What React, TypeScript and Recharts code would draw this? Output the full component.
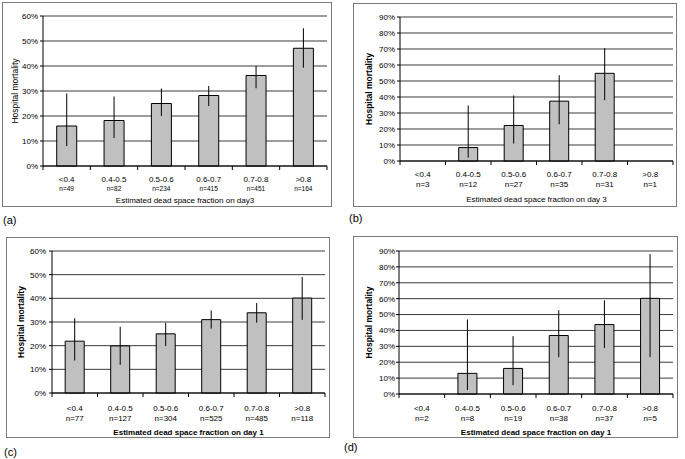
import React from 'react';
import { BarChart, Bar, XAxis, YAxis, CartesianGrid, ErrorBar } from 'recharts';

const categories = ['<0.4', '0.4-0.5', '0.5-0.6', '0.6-0.7', '0.7-0.8', '>0.8'];

// (a) day 3, all patients
const nA = [49, 82, 234, 415, 451, 164];
const mortA = [16, 18.2, 25, 28.2, 36.2, 47.1];
const lowA = [8, 11.2, 20, 24, 31.1, 39.3];
const highA = [29, 27.8, 31, 32, 40, 55.1];

// (b) day 3, subgroup
const nB = [3, 12, 27, 35, 31, 1];
const mortB = [0, 8.4, 22.2, 37.4, 54.8, 0];
const lowB = [0, 2.1, 10.9, 23, 38, 0];
const highB = [0, 34.7, 41, 53.6, 70.5, 0];

// (c) day 1, all patients
const nC = [77, 127, 304, 525, 485, 118];
const mortC = [21.9, 19.9, 25, 31, 33.9, 40.1];
const lowC = [13.7, 11.9, 19.8, 27.2, 29.7, 30.9];
const highC = [31.6, 28, 29.6, 34.9, 38, 49];

// (d) day 1, subgroup
const nD = [2, 8, 19, 38, 37, 5];
const mortD = [0, 13, 16.1, 36.8, 43.7, 60.2];
const lowD = [0, 2.5, 5.6, 23.2, 29, 23.2];
const highD = [0, 46.9, 36.4, 52.7, 59, 88];

const ticks60 = [0, 10, 20, 30, 40, 50, 60];
const ticks90 = [0, 10, 20, 30, 40, 50, 60, 70, 80, 90];

const FONT = 'Arial, "Liberation Sans", sans-serif';

const buildRows = (mort: number[], low: number[], high: number[]) =>
  categories.map((c, i) => ({
    cat: c,
    v: mort[i],
    err: [mort[i] - low[i], high[i] - mort[i]],
  }));

interface PanelProps {
  letter: string;
  letterPos: { left: number; top: number };
  box: { left: number; top: number; width: number; height: number };
  margin: { top: number; right: number; left: number };
  yWidth: number;
  yTickMargin: number;
  xHeight: number;
  yMax: number;
  yTicks: number[];
  mort: number[];
  low: number[];
  high: number[];
  n: number[];
  title: string;
  yTitleX: number;
  yBold: boolean;
  xBold: boolean;
  catDy: number;
  nDy: number;
  titleDy: number;
  nSize: number;
}

function Panel(p: PanelProps) {
  const rows = buildRows(p.mort, p.low, p.high);
  const plotW = p.box.width - p.margin.left - p.yWidth - p.margin.right;
  const band = plotW / categories.length;

  const CatTick = (t: any) => {
    const { x, y, payload, index } = t;
    const off = payload && payload.offset != null && payload.offset > 0 ? payload.offset : band / 2;
    return (
      <g>
        <line x1={x - off} x2={x - off} y1={y} y2={y + 4} stroke="#000" />
        {index === categories.length - 1 && (
          <line x1={x + off} x2={x + off} y1={y} y2={y + 4} stroke="#000" />
        )}
        <text x={x} y={y + p.catDy} dy="0.35em" textAnchor="middle" fontSize={8} fill="#000" fontFamily={FONT}>
          {payload.value}
        </text>
        <text x={x} y={y + p.nDy} dy="0.35em" textAnchor="middle" fontSize={p.nSize} fill="#000" fontFamily={FONT}>
          {'n=' + p.n[index]}
        </text>
      </g>
    );
  };

  return (
    <>
      <div
        style={{
          position: 'absolute',
          left: p.box.left,
          top: p.box.top,
          width: p.box.width,
          height: p.box.height,
          border: '1px solid #7a7a7a',
          boxSizing: 'border-box',
        }}
      />
      <div style={{ position: 'absolute', left: p.box.left, top: p.box.top }}>
        <BarChart
          width={p.box.width}
          height={p.box.height}
          data={rows}
          margin={{ top: p.margin.top, right: p.margin.right, left: p.margin.left, bottom: 0 }}
          barCategoryGap="29%"
        >
          <CartesianGrid vertical={false} stroke="#3a3a3a" />
          <XAxis
            dataKey="cat"
            interval={0}
            height={p.xHeight}
            tickSize={0}
            tickMargin={0}
            tickLine={false}
            axisLine={{ stroke: '#000' }}
            tick={<CatTick />}
            label={{
              content: (lp: any) => {
                const vb = lp.viewBox;
                return (
                  <text
                    x={vb.x + vb.width / 2}
                    y={vb.y + p.titleDy}
                    dy="0.35em"
                    textAnchor="middle"
                    fontSize={8}
                    fontWeight={p.xBold ? 'bold' : 'normal'}
                    fill="#000"
                    fontFamily={FONT}
                  >
                    {p.title}
                  </text>
                );
              },
            }}
          />
          <YAxis
            type="number"
            domain={[0, p.yMax]}
            ticks={p.yTicks}
            interval={0}
            width={p.yWidth}
            tickSize={3}
            tickMargin={p.yTickMargin}
            tickFormatter={(v: number) => `${v}%`}
            tick={{ fontSize: 8, fill: '#000', fontFamily: FONT }}
            tickLine={{ stroke: '#000' }}
            axisLine={{ stroke: '#000' }}
            label={{
              content: (lp: any) => {
                const vb = lp.viewBox;
                const cx = vb.x + p.yTitleX;
                const cy = vb.y + vb.height / 2;
                return (
                  <text
                    x={cx}
                    y={cy}
                    dy="0.35em"
                    transform={`rotate(-90, ${cx}, ${cy})`}
                    textAnchor="middle"
                    fontSize={8.5}
                    fontWeight={p.yBold ? 'bold' : 'normal'}
                    fill="#000"
                    fontFamily={FONT}
                  >
                    Hospital mortality
                  </text>
                );
              },
            }}
          />
          <Bar dataKey="v" fill="#c0c0c0" stroke="#000" strokeWidth={1} isAnimationActive={false}>
            <ErrorBar dataKey="err" direction="y" width={0} stroke="#000" strokeWidth={1} />
          </Bar>
        </BarChart>
      </div>
      <div
        style={{
          position: 'absolute',
          left: p.letterPos.left,
          top: p.letterPos.top,
          fontSize: 11,
          fontFamily: FONT,
          color: '#000',
          lineHeight: '12px',
        }}
      >
        {p.letter}
      </div>
    </>
  );
}

export default function App() {
  return (
    <div
      style={{
        position: 'absolute',
        left: 0,
        top: 0,
        width: 685,
        height: 459,
        background: '#fff',
        overflow: 'hidden',
      }}
    >
      <Panel
        letter="(a)"
        letterPos={{ left: 3, top: 214 }}
        box={{ left: 2, top: 2, width: 330, height: 205 }}
        margin={{ top: 14, right: 5, left: 0 }}
        yWidth={41}
        yTickMargin={2}
        xHeight={41}
        yMax={60}
        yTicks={ticks60}
        mort={mortA}
        low={lowA}
        high={highA}
        n={nA}
        title="Estimated dead  space fraction on day3"
        yTitleX={13}
        yBold={false}
        xBold={false}
        catDy={13}
        nDy={23}
        titleDy={34}
        nSize={6.5}
      />
      <Panel
        letter="(b)"
        letterPos={{ left: 349, top: 212 }}
        box={{ left: 353, top: 3, width: 324, height: 204 }}
        margin={{ top: 14, right: 4, left: 0 }}
        yWidth={47}
        yTickMargin={2}
        xHeight={46}
        yMax={90}
        yTicks={ticks90}
        mort={mortB}
        low={lowB}
        high={highB}
        n={nB}
        title="Estimated dead space fraction on day 3"
        yTitleX={16}
        yBold={true}
        xBold={false}
        catDy={13}
        nDy={23}
        titleDy={38}
        nSize={8}
      />
      <Panel
        letter="(c)"
        letterPos={{ left: 4, top: 446 }}
        box={{ left: 6, top: 237, width: 324, height: 201 }}
        margin={{ top: 14, right: 5, left: 0 }}
        yWidth={46}
        yTickMargin={3}
        xHeight={45}
        yMax={60}
        yTicks={ticks60}
        mort={mortC}
        low={lowC}
        high={highC}
        n={nC}
        title="Estimated dead space fraction on day 1"
        yTitleX={15}
        yBold={true}
        xBold={true}
        catDy={15}
        nDy={25}
        titleDy={39}
        nSize={8}
      />
      <Panel
        letter="(d)"
        letterPos={{ left: 344, top: 441 }}
        box={{ left: 353, top: 236, width: 325, height: 202 }}
        margin={{ top: 15, right: 5, left: 0 }}
        yWidth={46}
        yTickMargin={1}
        xHeight={44}
        yMax={90}
        yTicks={ticks90}
        mort={mortD}
        low={lowD}
        high={highD}
        n={nD}
        title="Estimated dead space fraction on day 1"
        yTitleX={16}
        yBold={true}
        xBold={true}
        catDy={14}
        nDy={24}
        titleDy={38}
        nSize={8}
      />
    </div>
  );
}
